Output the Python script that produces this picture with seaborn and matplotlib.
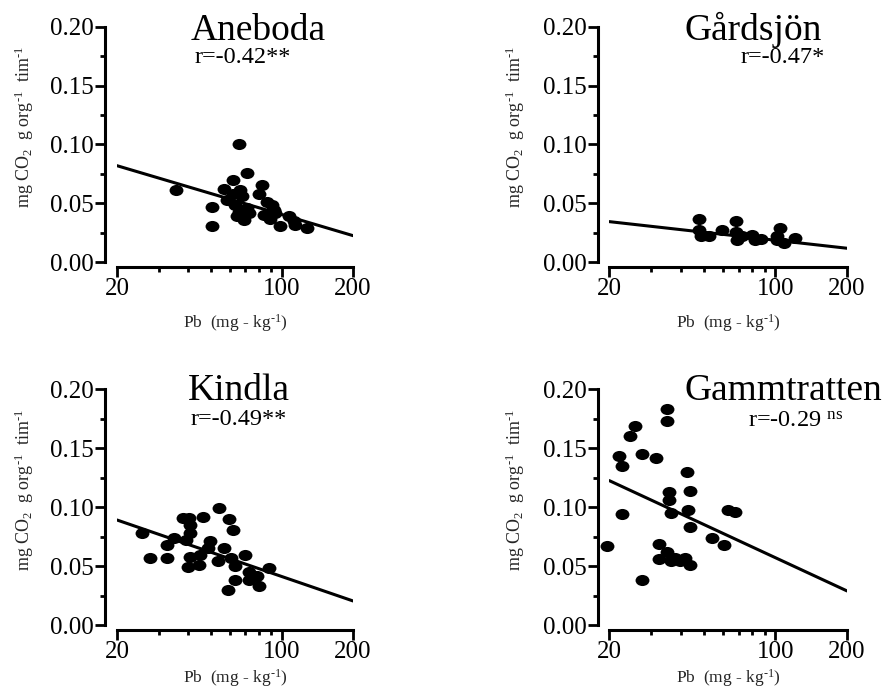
import numpy as np
import matplotlib
matplotlib.use('Agg')
import matplotlib.pyplot as plt
from matplotlib.path import Path
from matplotlib import ticker
import seaborn as sns

# Pb (mg/kg) and respiration (mg CO2 g org-1 tim-1)
aneboda_pb = [35.7, 50.5, 50.5, 65.5, 71.1, 61.8, 57.0, 58.5, 66.4, 67.5, 63.4, 65.5, 68.8, 71.1, 61.8,
              82.3, 79.6, 86.4, 90.8, 83.6, 88.6, 93.8, 98.5, 106.8, 114.0, 127.6, 112.7, 64.5, 72.2, 92.5]
aneboda_co2 = [0.061, 0.047, 0.031, 0.100, 0.076, 0.070, 0.062, 0.053, 0.061, 0.056, 0.049, 0.043, 0.036, 0.046, 0.058,
               0.066, 0.058, 0.051, 0.049, 0.040, 0.037, 0.042, 0.031, 0.039, 0.032, 0.029, 0.035, 0.039, 0.042, 0.044]

gardsjon_pb = [47.6, 47.6, 48.5, 52.4, 59.7, 67.9, 67.9, 69.0, 72.5, 79.8, 82.4, 86.5, 101.6, 104.0, 108.4, 121.4, 101.0]
gardsjon_co2 = [0.037, 0.027, 0.022, 0.022, 0.027, 0.035, 0.026, 0.019, 0.022, 0.023, 0.019, 0.020, 0.022, 0.029, 0.016, 0.021, 0.019]

kindla_pb = [25.5, 27.7, 32.6, 32.6, 34.8, 38.1, 40.3, 40.6, 40.9, 39.4, 40.9, 40.0, 44.4, 45.0, 46.5, 49.5,
             48.7, 53.9, 56.6, 53.4, 59.4, 61.8, 59.0, 63.4, 63.4, 61.0, 70.0, 72.3, 72.3, 78.4, 79.6, 87.8]
kindla_co2 = [0.078, 0.057, 0.057, 0.068, 0.074, 0.091, 0.091, 0.085, 0.078, 0.072, 0.058, 0.049, 0.051, 0.059, 0.092, 0.071,
              0.065, 0.099, 0.065, 0.054, 0.090, 0.081, 0.030, 0.038, 0.050, 0.057, 0.059, 0.045, 0.038, 0.042, 0.033, 0.048]

gamm_pb = [19.6, 21.9, 22.6, 22.7, 24.5, 25.6, 27.5, 27.5, 31.4, 32.3, 32.3, 35.1, 35.1, 35.6, 35.6,
           36.4, 35.1, 36.2, 37.9, 39.8, 41.8, 42.5, 42.7, 43.5, 43.5, 43.5, 54.1, 60.7, 63.2, 67.5]
gamm_co2 = [0.067, 0.143, 0.135, 0.094, 0.160, 0.169, 0.145, 0.038, 0.142, 0.069, 0.056, 0.183, 0.173, 0.113, 0.106,
            0.095, 0.062, 0.054, 0.057, 0.054, 0.057, 0.130, 0.098, 0.114, 0.083, 0.051, 0.074, 0.068, 0.098, 0.096]

# regression lines, value at Pb = 20 and Pb = 200
fit_x = [20, 200]
aneboda_fit = [0.082, 0.0226]
gardsjon_fit = [0.0345, 0.0119]
kindla_fit = [0.0891, 0.0204]
gamm_fit = [0.1225, 0.0289]

titles = ['Aneboda', 'Gårdsjön', 'Kindla', 'Gammtratten']
r_labels = ['r=-0.42**', 'r=-0.47*', 'r=-0.49**', r'r=-0.29 $^{\mathrm{ns}}$']

sns.set_style('ticks')
plt.rcParams['font.family'] = ['Liberation Serif', 'DejaVu Serif']
plt.rcParams['mathtext.fontset'] = 'custom'
plt.rcParams['mathtext.rm'] = 'Liberation Serif'
plt.rcParams['mathtext.it'] = 'Liberation Serif:italic'
plt.rcParams['mathtext.default'] = 'regular'

circ = Path.unit_circle()
ellipse = Path(circ.vertices * [1.0, 0.8], circ.codes)

panels = [
    (aneboda_pb, aneboda_co2, aneboda_fit, [0.1322, 0.6199, 0.2667, 0.3414], (0.60, 0.943), (0.534, 0.846), -0.21),
    (gardsjon_pb, gardsjon_co2, gardsjon_fit, [0.6885, 0.6199, 0.2686, 0.3414], (0.604, 0.943), (0.73, 0.846), -0.21),
    (kindla_pb, kindla_co2, kindla_fit, [0.1322, 0.0942, 0.2667, 0.3416], (0.517, 0.955), (0.516, 0.849), -0.178),
    (gamm_pb, gamm_co2, gamm_fit, [0.6885, 0.0942, 0.2686, 0.3416], (0.734, 0.955), (0.784, 0.842), -0.178),
]

fig = plt.figure(figsize=(8.85, 6.9), dpi=100)
fig.patch.set_facecolor('white')

for i, (pb, co2, fit, pos, tpos, rpos, xl_y) in enumerate(panels):
    ax = fig.add_axes(pos)
    ax.set_facecolor('none')
    sns.lineplot(x=fit_x, y=fit, ax=ax, color='black', linewidth=2.2, zorder=2)
    sns.scatterplot(x=pb, y=co2, ax=ax, color='black', marker=ellipse, s=100,
                    linewidth=0, zorder=3, clip_on=False)
    ax.set_xscale('log')
    ax.set_xlim(20, 200)
    ax.set_ylim(0, 0.2)
    ax.xaxis.set_major_locator(ticker.FixedLocator([20, 100, 200]))
    ax.xaxis.set_major_formatter(ticker.FixedFormatter(['20', '100', '200']))
    ax.xaxis.set_minor_locator(ticker.FixedLocator([30, 40, 50, 60, 70, 80, 90]))
    ax.xaxis.set_minor_formatter(ticker.NullFormatter())
    ax.yaxis.set_major_locator(ticker.FixedLocator([0, 0.05, 0.10, 0.15, 0.20]))
    ax.yaxis.set_major_formatter(ticker.FormatStrFormatter('%.2f'))
    ax.yaxis.set_minor_locator(ticker.FixedLocator([0.025, 0.075, 0.125, 0.175]))

    sns.despine(ax=ax)
    ax.spines['left'].set_position(('outward', 8.5))
    ax.spines['bottom'].set_position(('outward', 3.3))
    ax.spines['left'].set_bounds(0, 0.2)
    ax.spines['bottom'].set_bounds(20, 200)
    for s in ['left', 'bottom']:
        ax.spines[s].set_linewidth(2.2)
        ax.spines[s].set_color('black')
    ax.tick_params(which='major', direction='out', length=7, width=2, labelsize=18,
                   pad=1, colors='black')
    ax.tick_params(which='minor', direction='out', length=3.5, width=2, colors='black')

    ax.set_xlabel(r'Pb  (mg - kg$^{\text{-}1}$)', fontsize=12.5)
    ax.set_ylabel(r'mg CO$_2$  g org$^{\text{-}1}$  tim$^{\text{-}1}$', fontsize=13)
    ax.xaxis.set_label_coords(0.5, xl_y)
    ax.yaxis.set_label_coords(-0.345, 0.574)
    ax.grid(False)

    ax.text(tpos[0], tpos[1], titles[i], transform=ax.transAxes, ha='center',
            va='baseline', fontsize=27, color='black')
    ax.text(rpos[0], rpos[1], r_labels[i], transform=ax.transAxes, ha='center',
            va='baseline', fontsize=17.5, color='black')

plt.savefig('out.png', dpi=100, facecolor='white')
